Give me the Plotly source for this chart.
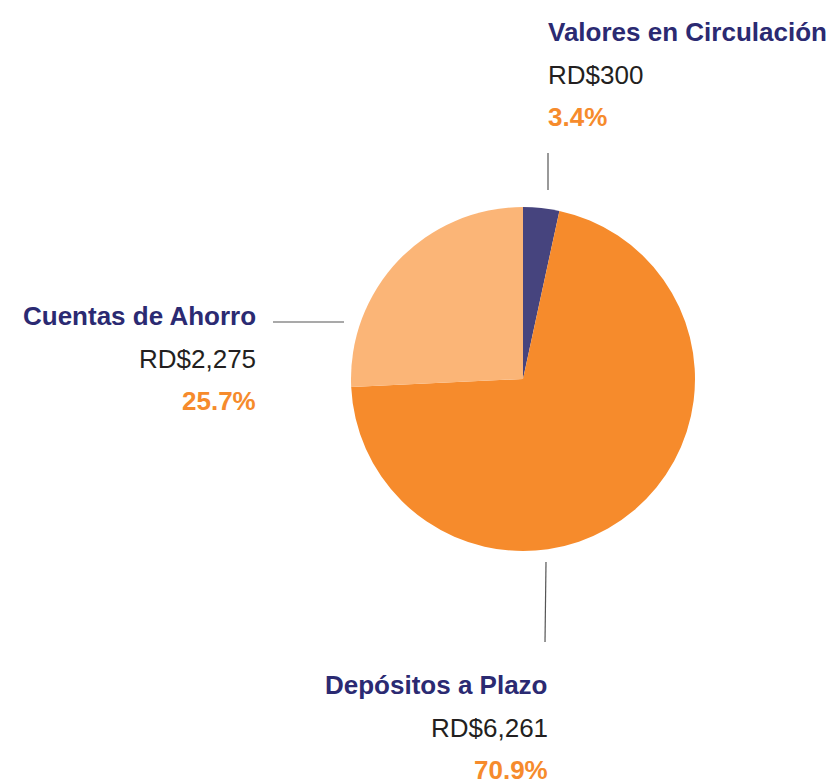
import plotly.graph_objects as go

labels = ["Valores en Circulación", "Depósitos a Plazo", "Cuentas de Ahorro"]
values = [300, 6261, 2275]
colors = ["#46447E", "#F68B2C", "#FBB577"]

W, H = 833, 782
total = sum(values)
pcts = [v / total * 100 for v in values]

def px(x):
    return x / W

def py(y):
    return 1 - y / H

fig = go.Figure()
fig.add_trace(go.Pie(
    labels=labels, values=values, sort=False, direction="clockwise", rotation=0,
    marker=dict(colors=colors, line=dict(width=0)),
    textinfo="none", hoverinfo="label+value+percent", showlegend=False,
    domain=dict(x=[px(351), px(695)], y=[py(551), py(207)]),
))

# label placements (pixel positions): x, anchor, y of title line
label_pos = [
    (546, "left", 32),
    (550, "right", 685),
    (258, "right", 316),
]
title_color = "#2B2A72"
value_color = "#231F20"
pct_color = "#F68B2C"
fam = "Liberation Sans, Arial, sans-serif"
FS = 26

ann = []
for lab, val, pct, (x, anc, y) in zip(labels, values, pcts, label_pos):
    ann.append(dict(x=px(x), y=py(y), text=f"<b>{lab}</b>", xanchor=anc, yanchor="middle",
                    font=dict(family=fam, size=FS, color=title_color)))
    ann.append(dict(x=px(x), y=py(y + 43), text=f"RD${val:,}", xanchor=anc, yanchor="middle",
                    font=dict(family=fam, size=FS, color=value_color)))
    ann.append(dict(x=px(x), y=py(y + 85), text=f"<b>{pct:.1f}%</b>", xanchor=anc, yanchor="middle",
                    font=dict(family=fam, size=FS, color=pct_color)))
for a in ann:
    a.update(xref="paper", yref="paper", showarrow=False)

lines = [
    (548, 153, 548, 190),
    (273, 322, 344, 322),
    (546, 562, 545, 642),
]
shapes = [dict(type="line", xref="paper", yref="paper", x0=px(a), y0=py(b), x1=px(c), y1=py(d),
               line=dict(color="#555555", width=1.2)) for a, b, c, d in lines]

fig.update_layout(
    width=W, height=H, margin=dict(l=0, r=0, t=0, b=0),
    paper_bgcolor="white", plot_bgcolor="white",
    annotations=ann, shapes=shapes,
)
fig.write_html(
    "out.html",
    config={"displayModeBar": False},
    post_script="document.body.style.margin='0';document.body.style.overflow='hidden';",
)
